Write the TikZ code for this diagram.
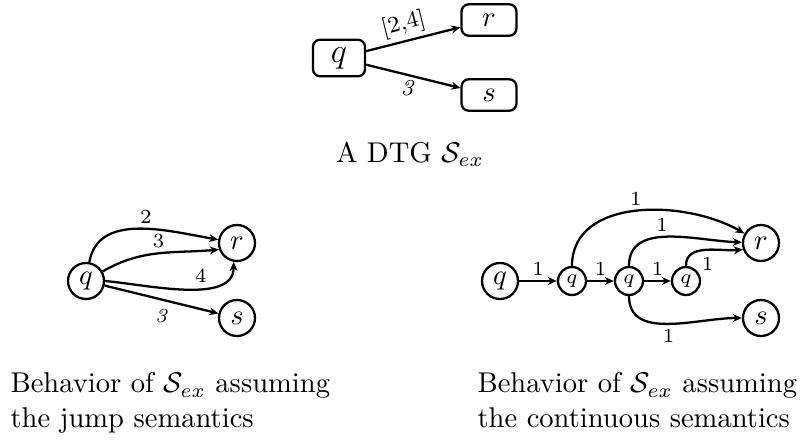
\documentclass[tikz,border=0pt]{standalone}
\usepackage{amsmath, amssymb}
\usetikzlibrary{arrows.meta}

\begin{document}
\begin{tikzpicture}[x=0.35pt, y=0.35pt, >={Stealth[length=3.2pt, width=2.8pt]},
    box/.style={draw, thick, rounded corners=2.5pt, inner sep=0pt},
    st/.style={draw, thick, circle, inner sep=0pt, minimum size=12.6pt},
    sst/.style={draw, thick, circle, inner sep=0pt, minimum size=9.8pt, font=\scriptsize},
    lbl/.style={font=\scriptsize, inner sep=1.5pt}]
    \useasboundingbox (0,0) rectangle (802,-441);

    % the DTG
    \node[box, minimum width=18.2pt, minimum height=12.8pt, font=\large] (q) at (339,-58) {$q$};
    \node[box, minimum width=19.2pt, minimum height=11pt] (r) at (489,-20) {$r$};
    \node[box, minimum width=19.2pt, minimum height=11pt] (s) at (489,-95) {$s$};
    \draw[->, thick] (q) -- node[lbl, above, sloped, pos=0.44, font=\footnotesize] {[2,4]} (r);
    \draw[->, thick] (q) -- node[lbl, below, pos=0.44, font=\footnotesize] {\textit{3}} (s);
    \node[anchor=base east] (dtg) at (494,-162) {A DTG $\mathcal{S}_{ex}$};

    % jump semantics
    \node[st] (jq) at (86,-281) {$q$};
    \node[st] (jr) at (237,-243) {$r$};
    \node[st] (js) at (237,-318) {$s$};
    \draw[->, thick] (jq) to[out=80, in=170] node[lbl, above, pos=0.55] {2} (jr);
    \draw[->, thick] (jq.30) to[out=30, in=185] node[lbl, above] {3} (jr.200);
    \draw[->, thick] (jq.0) to[out=-5, in=-90, looseness=0.85] node[lbl, above, pos=0.6] {4} (jr.-100);
    \draw[->, thick] (jq) -- node[lbl, below, inner sep=3pt] {\textit{3}} (js);

    % continuous semantics
    \node[st] (cq) at (500,-281) {$q$};
    \node[sst] (c1) at (572,-281) {$q$};
    \node[sst] (c2) at (629,-281) {$q$};
    \node[sst] (c3) at (686,-281) {$q$};
    \node[st] (cr) at (761,-243) {$r$};
    \node[st] (cs) at (761,-318) {$s$};
    \draw[->, thick] (cq) -- node[lbl, above] {1} (c1);
    \draw[->, thick] (c1) -- node[lbl, above] {1} (c2);
    \draw[->, thick] (c2) -- node[lbl, above] {1} (c3);
    \draw[->, thick] (c1) to[out=90, in=150] node[lbl, above] {1} (cr);
    \draw[->, thick] (c2) to[out=90, in=178] node[lbl, above, pos=0.45] {1} (cr);
    \draw[->, thick] (c3) to[out=90, in=185] node[lbl, below right, pos=0.35] {1} (cr.200);
    \draw[->, thick] (c2) to[out=-90, in=180] node[lbl, below] {1} (cs);

    % captions
    \node[anchor=north west, align=left, inner sep=0pt] (capj) at (10,-372)
        {Behavior of $\mathcal{S}_{ex}$ assuming\\the jump semantics};
    \node[anchor=north west, align=left, inner sep=0pt] (capc) at (477,-372)
        {Behavior of $\mathcal{S}_{ex}$ assuming\\the continuous semantics};
\end{tikzpicture}
\end{document}
